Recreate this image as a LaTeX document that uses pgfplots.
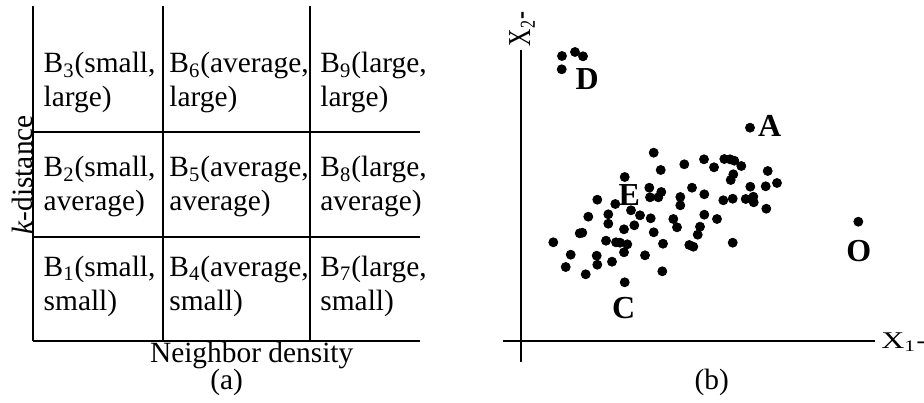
\documentclass[border=0pt]{standalone}
\usepackage{pgfplots}
\pgfplotsset{compat=1.18}
\usepackage{fontspec}
\setmainfont{Liberation Serif}

\tikzset{cell/.style={anchor=base west, inner sep=0pt}}

\begin{document}
\begin{tikzpicture}[font=\fontsize{14.7}{17.6}\selectfont]
\useasboundingbox (0,0) rectangle (462pt,201pt);

% (a) the 3x3 grid, coordinates in pixels of the original
\begin{axis}[
  at={(16.65pt,30.65pt)}, anchor=south west,
  x=0.5pt, y=0.5pt,
  xmin=33.3, xmax=420, ymin=61.3, ymax=396,
  axis lines=left, axis line style={-, line width=1pt},
  xtick={163.3,310}, ytick={165.3,270.3},
  xticklabels={}, yticklabels={},
  major tick length=0pt,
  grid=major, major grid style={black, line width=1pt},
  clip=false,
]
\node[cell] at (axis cs:43.3,329) {B\textsubscript{3}(small,};
\node[cell] at (axis cs:43.3,296) {large)};
\node[cell] at (axis cs:169,329) {B\textsubscript{6}(average,};
\node[cell] at (axis cs:169,296) {large)};
\node[cell] at (axis cs:320,329) {B\textsubscript{9}(large,};
\node[cell] at (axis cs:320,296) {large)};

\node[cell] at (axis cs:43.3,225.3) {B\textsubscript{2}(small,};
\node[cell] at (axis cs:43.3,191.3) {average)};
\node[cell] at (axis cs:169,225.3) {B\textsubscript{5}(average,};
\node[cell] at (axis cs:169,191.3) {average)};
\node[cell] at (axis cs:320,225.3) {B\textsubscript{8}(large,};
\node[cell] at (axis cs:320,191.3) {average)};

\node[cell] at (axis cs:43.3,126) {B\textsubscript{1}(small,};
\node[cell] at (axis cs:43.3,92) {small)};
\node[cell] at (axis cs:169,126) {B\textsubscript{4}(average,};
\node[cell] at (axis cs:169,92) {small)};
\node[cell] at (axis cs:320,126) {B\textsubscript{7}(large,};
\node[cell] at (axis cs:320,92) {small)};

\node[anchor=base, inner sep=0pt] at (axis cs:251.7,40) {Neighbor density};
\node[anchor=base, inner sep=0pt] at (axis cs:226.7,13) {(a)};
\node[rotate=90, anchor=base, inner sep=0pt] at (axis cs:32.3,227) {\textit{k}-distance};
\end{axis}

% (b) scatter, origin at the crossing of the two axes
\begin{axis}[
  at={(251.35pt,20.15pt)}, anchor=south west,
  x=0.5pt, y=0.5pt,
  xmin=-18, xmax=354.3, ymin=-21, ymax=290.7,
  axis lines=middle, axis line style={-, line width=1pt},
  xtick=\empty, ytick=\empty,
  clip=false,
]
\addplot[only marks, mark=*, mark size=2.25pt, black] coordinates {
  (133.0,188.0) (140.0,170.7) (163.6,176.4) (183.3,181.4) (193.3,173.4)
  (203.6,181.7) (209.3,181.4) (213.6,180.0) (220.6,174.7) (212.6,166.4)
  (210.0,160.7) (247.0,169.7) (256.3,157.7) (245.0,154.4) (229.6,154.0)
  (232.6,144.0) (225.0,141.7) (233.0,138.4) (245.6,132.0) (212.0,142.0)
  (202.6,140.4) (171.3,153.0) (183.6,146.4) (183.6,126.0) (196.3,121.7)
  (159.6,143.7) (159.6,135.4) (152.6,121.7) (156.3,113.4) (179.3,114.0)
  (177.0,106.0) (168.6,95.7) (172.6,94.0) (212.0,98.0) (128.6,153.0)
  (129.3,143.4) (137.6,143.4) (140.6,148.7) (130.0,122.4) (133.0,108.4)
  (142.3,97.0) (124.3,85.4) (141.6,69.4) (104.0,163.7) (94.6,136.7)
  (110.3,130.4) (119.3,125.4) (113.6,115.4) (103.3,111.4) (87.6,126.4)
  (87.6,117.0) (76.6,141.0) (67.6,124.0) (59.0,107.4) (61.6,108.0)
  (32.6,98.4) (50.0,86.0) (45.0,73.7) (65.0,66.4) (76.0,85.0)
  (76.6,76.0) (85.3,100.0) (95.3,98.4) (99.3,98.0) (106.6,96.4)
  (103.3,88.4) (91.3,79.0)
  (104.0,58.4)
  (229.3,213.0)
  (337.6,119.0)
  (41.3,284.7) (54.3,288.7) (62.3,284.4) (41.0,271.4)
};
\begin{scope}[every node/.style={anchor=base, inner sep=0pt, font=\fontsize{16}{19}\selectfont\bfseries}]
\node at (axis cs:66.5,250.7) {D};
\node at (axis cs:249.0,204.0) {A};
\node at (axis cs:108.6,135.7) {E};
\node at (axis cs:338.1,79.2) {O};
\node at (axis cs:103.0,22.2) {C};
\end{scope}
\node[anchor=base west, inner sep=0pt, font=\fontsize{12}{14}\selectfont, xscale=1.33]
  at (axis cs:360,-7.6) {X\textsubscript{1}-};
\node[anchor=base west, inner sep=0pt, font=\fontsize{12}{14}\selectfont, xscale=1.33, rotate=90]
  at (axis cs:9.3,294) {X\textsubscript{2}-};
\node[anchor=base, inner sep=0pt] at (axis cs:191,-48.3) {(b)};
\end{axis}
\end{tikzpicture}
\end{document}
